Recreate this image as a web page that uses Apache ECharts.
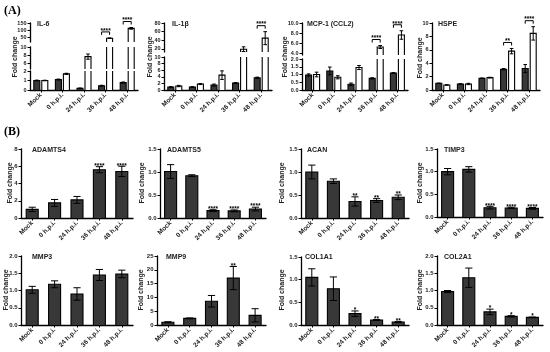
<!DOCTYPE html>
<html><head><meta charset="utf-8">
<script src="https://cdn.jsdelivr.net/npm/echarts@6/dist/echarts.min.js"></script>
<style>html,body{margin:0;padding:0;background:#fff}#c{width:550px;height:352px}</style>
</head><body><div id="c"></div>
<script>
const categories = ['Mock', '0 h.p.i.', '24 h.p.i.', '36 h.p.i.', '48 h.p.i.'];

// ---- (A) paired bars: filled (dark) and open (white) ----
const il6Dark = [1.0, 1.1, 0.18, 0.45, 0.78];
const il6DarkErr = [0.04, 0.05, 0.03, 0.05, 0.06];
const il6Open = [1.0, 1.7, 7.6, 42, 112];
const il6OpenErr = [0.03, 0.06, 0.65, 2, 6];
const il6Sig = ['', '', '', '****', '****'];
const il6TicksLow = [0, 1, 2];
const il6TicksMid = [6, 8, 10];
const il6TicksHigh = [50, 100, 150];

const il1bDark = [0.9, 0.9, 1.5, 2.1, 3.7];
const il1bDarkErr = [0.1, 0.1, 0.3, 0.15, 0.2];
const il1bOpen = [1.2, 1.8, 4.5, 19.5, 45];
const il1bOpenErr = [0.2, 0.15, 1.3, 5.5, 15];
const il1bSig = ['', '', '', '', '****'];
const il1bTicksLow = [0, 2, 4, 6, 8, 10];
const il1bTicksHigh = [20, 40, 60, 80];

const mcp1Dark = [0.97, 1.23, 0.37, 0.75, 1.1];
const mcp1DarkErr = [0.07, 0.25, 0.08, 0.04, 0.02];
const mcp1Open = [1.0, 0.82, 1.45, 5.2, 7.6];
const mcp1OpenErr = [0.15, 0.1, 0.13, 0.3, 0.85];
const mcp1Sig = ['', '', '', '****', '****'];
const mcp1TicksLow = [0, 0.5, 1, 1.5, 2];
const mcp1TicksHigh = [4, 6, 8, 10];

const hspeDark = [1.0, 0.9, 1.75, 3.1, 3.2];
const hspeDarkErr = [0.03, 0.03, 0.04, 0.1, 0.6];
const hspeOpen = [0.75, 0.9, 1.85, 5.8, 8.45];
const hspeOpenErr = [0.03, 0.1, 0.05, 0.4, 1.0];
const hspeSig = ['', '', '', '**', '****'];
const hspeTicks = [0, 2, 4, 6, 8, 10];

// ---- (B) single bars ----
const adamts4 = [1.0, 1.75, 2.1, 5.6, 5.4];
const adamts4Err = [0.25, 0.4, 0.4, 0.35, 0.6];
const adamts4Sig = ['', '', '', '****', '****'];
const adamts4Ticks = [0, 2, 4, 6, 8];

const adamts5 = [1.01, 0.92, 0.16, 0.155, 0.195];
const adamts5Err = [0.15, 0.02, 0.02, 0.02, 0.04];
const adamts5Sig = ['', '', '****', '****', '****'];

const acan = [1.0, 0.8, 0.36, 0.38, 0.45];
const acanErr = [0.15, 0.05, 0.1, 0.04, 0.05];
const acanSig = ['', '', '**', '**', '**'];

const timp3 = [1.0, 1.05, 0.205, 0.2, 0.19];
const timp3Err = [0.07, 0.06, 0.03, 0.015, 0.02];
const timp3Sig = ['', '', '****', '****', '****'];

const ticks15 = [0, 0.5, 1, 1.5];
const ticks20 = [0, 0.5, 1, 1.5, 2];

const mmp3 = [1.02, 1.18, 0.9, 1.45, 1.48];
const mmp3Err = [0.1, 0.1, 0.18, 0.16, 0.11];
const mmp3Sig = ['', '', '', '', ''];

const mmp9 = [1.0, 2.4, 8.6, 17, 3.5];
const mmp9Err = [0.2, 0.15, 2.1, 4.2, 2.4];
const mmp9Sig = ['', '', '', '**', ''];
const mmp9Ticks = [0, 5, 10, 15, 20, 25];

const col1a1 = [1.05, 0.8, 0.25, 0.11, 0.065];
const col1a1Err = [0.19, 0.26, 0.06, 0.01, 0.01];
const col1a1Sig = ['', '', '*', '**', '**'];

const col2a1 = [0.97, 1.37, 0.38, 0.25, 0.22];
const col2a1Err = [0.03, 0.28, 0.08, 0.02, 0.01];
const col2a1Sig = ['', '', '*', '*', '*'];

// ---- drawing ----
const FONT = "'Liberation Sans', Arial, sans-serif";
const DARK = '#383838';
const option = { animation: false, backgroundColor: '#fff', grid: [], xAxis: [], yAxis: [], series: [], graphic: [] };

function ln(x1, y1, x2, y2, w) {
  return { type: 'line', shape: { x1, y1, x2, y2 }, style: { stroke: '#000', lineWidth: w, fill: null } };
}

function drawBar(ch, api, i, cx, bw, v, e, fill, top, bottom) {
  const y0 = api.coord([i, 0])[1];
  const yv = api.coord([i, v])[1];
  const x0 = cx - bw / 2, x1 = cx + bw / 2;
  const yt = Math.max(yv, top), yb = Math.min(y0, bottom);
  if (yt < yb) {
    ch.push({ type: 'rect', shape: { x: x0, y: yt, width: bw, height: yb - yt }, style: { fill: fill } });
    if (yv >= top) {
      ch.push({ type: 'polyline', shape: { points: [[x0, yb], [x0, yv], [x1, yv], [x1, yb]] }, style: { stroke: '#000', lineWidth: 1.1, fill: null } });
    } else {
      ch.push(ln(x0, yb, x0, yt, 1.1));
      ch.push(ln(x1, yb, x1, yt, 1.1));
    }
  }
  if (e > 0 && yv >= top - 0.5 && yv <= bottom + 0.5) {
    const ya = api.coord([i, v + e])[1];
    const yz = Math.min(api.coord([i, Math.max(v - e, 0)])[1], bottom);
    const cw = bw * 0.6;
    ch.push(ln(cx, ya, cx, yz, 1));
    ch.push(ln(cx - cw / 2, ya, cx + cw / 2, ya, 1));
    if (v - e > 0) ch.push(ln(cx - cw / 2, yz, cx + cw / 2, yz, 1));
  }
}

function makeRender(p, bw) {
  const paired = !!p.open;
  return function (params, api) {
    const i = api.value(0);
    const cs = params.coordSys;
    const top = cs.y, bottom = cs.y + cs.height;
    const center = api.coord([i, 0])[0];
    const ch = [];
    const bars = paired
      ? [{ v: p.dark[i], e: p.darkErr[i], off: -4, fill: DARK }, { v: p.open[i], e: p.openErr[i], off: 4, fill: '#fff' }]
      : [{ v: p.dark[i], e: p.darkErr[i], off: 0, fill: DARK }];
    bars.forEach(b => drawBar(ch, api, i, center + b.off, bw, b.v, b.e, b.fill, top, bottom));
    const s = p.sig[i];
    if (s) {
      const b = bars[bars.length - 1];
      const yv = api.coord([i, b.v])[1];
      if (yv >= top - 0.5 && yv <= bottom + 0.5) {
        const ye = api.coord([i, b.v + b.e])[1];
        if (paired) {
          const yb = ye - 6;
          ch.push({ type: 'polyline', shape: { points: [[center - 4, yb + 3], [center - 4, yb], [center + 4, yb], [center + 4, yb + 3]] }, style: { stroke: '#000', lineWidth: 1, fill: null } });
          ch.push({ type: 'text', style: { text: s, x: center, y: yb + 2.5, align: 'center', verticalAlign: 'bottom', fontSize: 6.5, fontWeight: 'bold', fontFamily: FONT, fill: '#000' } });
        } else {
          ch.push({ type: 'text', style: { text: s, x: center, y: ye + 3, align: 'center', verticalAlign: 'bottom', fontSize: 6.5, fontWeight: 'bold', fontFamily: FONT, fill: '#000' } });
        }
      }
    }
    return { type: 'group', children: ch };
  };
}

function addPanel(p) {
  const paired = !!p.open;
  const bw = paired ? 6 : 12;
  const ysz = paired ? 5.5 : 6;
  p.segs.forEach((seg, si) => {
    const gi = option.grid.length;
    const lowest = si === 0;
    option.grid.push({ left: p.left, top: seg.top, width: p.right - p.left, height: seg.bottom - seg.top, containLabel: false, outerBoundsMode: 'none' });
    option.xAxis.push({
      type: 'category', gridIndex: gi, data: categories, boundaryGap: true,
      axisLine: { show: lowest, lineStyle: { color: '#000', width: 1.3 } },
      axisTick: { show: lowest, alignWithLabel: true, length: 2.5, lineStyle: { color: '#000', width: 1 } },
      axisLabel: { show: lowest, interval: 0, rotate: 45, margin: 4, fontSize: 6.5, fontWeight: 'bold', color: '#222', fontFamily: FONT },
      splitLine: { show: false }
    });
    option.yAxis.push({
      type: 'value', gridIndex: gi, min: seg.min, max: seg.max,
      axisLine: { show: true, lineStyle: { color: '#000', width: 1.3 } },
      axisTick: { show: true, length: 2.5, customValues: seg.ticks, lineStyle: { color: '#000', width: 1 } },
      axisLabel: { customValues: seg.ticks, margin: 3.5, fontSize: ysz, fontWeight: 'bold', color: '#222', fontFamily: FONT, formatter: v => Number(v).toFixed(seg.dec) },
      splitLine: { show: false }
    });
    option.series.push({
      type: 'custom', xAxisIndex: gi, yAxisIndex: gi, clip: false, z: 3,
      data: categories.map((c, i) => [i, p.dark[i]]),
      renderItem: makeRender(p, bw)
    });
  });
  option.graphic.push({ type: 'text', x: p.titleX, y: p.titleY, style: { text: p.title, fontSize: 7, fontWeight: 'bold', fontFamily: FONT, fill: '#222', verticalAlign: 'middle' } });
  option.graphic.push({ type: 'text', x: p.nameX, y: p.nameY, rotation: Math.PI / 2, style: { text: 'Fold change', fontSize: 7, fontWeight: 'bold', fontFamily: FONT, fill: '#222', align: 'center', verticalAlign: 'middle' } });
}

const panels = [
  { title: 'IL-6', left: 30, right: 138, titleX: 37, titleY: 24, nameX: 15, nameY: 57,
    dark: il6Dark, darkErr: il6DarkErr, open: il6Open, openErr: il6OpenErr, sig: il6Sig,
    segs: [{ min: 0, max: 2, top: 71, bottom: 90, ticks: il6TicksLow, dec: 0 },
           { min: 4.5, max: 10, top: 47, bottom: 69, ticks: il6TicksMid, dec: 0 },
           { min: 15, max: 150, top: 23, bottom: 42, ticks: il6TicksHigh, dec: 0 }] },
  { title: 'IL-1β', left: 164, right: 272, titleX: 172, titleY: 24, nameX: 150, nameY: 57,
    dark: il1bDark, darkErr: il1bDarkErr, open: il1bOpen, openErr: il1bOpenErr, sig: il1bSig,
    segs: [{ min: 0, max: 10, top: 57, bottom: 90, ticks: il1bTicksLow, dec: 0 },
           { min: 13, max: 80, top: 23, bottom: 52, ticks: il1bTicksHigh, dec: 0 }] },
  { title: 'MCP-1 (CCL2)', left: 302, right: 408, titleX: 307, titleY: 24, nameX: 285, nameY: 57,
    dark: mcp1Dark, darkErr: mcp1DarkErr, open: mcp1Open, openErr: mcp1OpenErr, sig: mcp1Sig,
    segs: [{ min: 0, max: 2, top: 59, bottom: 90, ticks: mcp1TicksLow, dec: 1 },
           { min: 3.6, max: 10, top: 23, bottom: 55, ticks: mcp1TicksHigh, dec: 1 }] },
  { title: 'HSPE', left: 432, right: 540, titleX: 438, titleY: 24, nameX: 420, nameY: 58,
    dark: hspeDark, darkErr: hspeDarkErr, open: hspeOpen, openErr: hspeOpenErr, sig: hspeSig,
    segs: [{ min: 0, max: 10, top: 23, bottom: 90, ticks: hspeTicks, dec: 0 }] },

  { title: 'ADAMTS4', left: 21, right: 133, titleX: 32, titleY: 150, nameX: 10, nameY: 183,
    dark: adamts4, darkErr: adamts4Err, sig: adamts4Sig,
    segs: [{ min: 0, max: 8, top: 149, bottom: 218, ticks: adamts4Ticks, dec: 0 }] },
  { title: 'ADAMTS5', left: 160, right: 266, titleX: 167, titleY: 150, nameX: 142, nameY: 183,
    dark: adamts5, darkErr: adamts5Err, sig: adamts5Sig,
    segs: [{ min: 0, max: 1.5, top: 149, bottom: 218, ticks: ticks15, dec: 1 }] },
  { title: 'ACAN', left: 301, right: 409, titleX: 307, titleY: 150, nameX: 282, nameY: 183,
    dark: acan, darkErr: acanErr, sig: acanSig,
    segs: [{ min: 0, max: 1.5, top: 149, bottom: 218, ticks: ticks15, dec: 1 }] },
  { title: 'TIMP3', left: 437, right: 543, titleX: 444, titleY: 150, nameX: 420, nameY: 183,
    dark: timp3, darkErr: timp3Err, sig: timp3Sig,
    segs: [{ min: 0, max: 1.5, top: 149, bottom: 217, ticks: ticks15, dec: 1 }] },

  { title: 'MMP3', left: 21, right: 133, titleX: 32, titleY: 257, nameX: 6, nameY: 290,
    dark: mmp3, darkErr: mmp3Err, sig: mmp3Sig,
    segs: [{ min: 0, max: 2, top: 256, bottom: 325, ticks: ticks20, dec: 1 }] },
  { title: 'MMP9', left: 157, right: 266, titleX: 166, titleY: 257, nameX: 141, nameY: 290,
    dark: mmp9, darkErr: mmp9Err, sig: mmp9Sig,
    segs: [{ min: 0, max: 25, top: 256, bottom: 325, ticks: mmp9Ticks, dec: 0 }] },
  { title: 'COL1A1', left: 301, right: 409, titleX: 305, titleY: 257, nameX: 282, nameY: 290,
    dark: col1a1, darkErr: col1a1Err, sig: col1a1Sig,
    segs: [{ min: 0, max: 1.5, top: 257, bottom: 325, ticks: ticks15, dec: 1 }] },
  { title: 'COL2A1', left: 437, right: 543, titleX: 444, titleY: 257, nameX: 420, nameY: 290,
    dark: col2a1, darkErr: col2a1Err, sig: col2a1Sig,
    segs: [{ min: 0, max: 2, top: 256, bottom: 325, ticks: ticks20, dec: 1 }] }
];

panels.forEach(addPanel);

option.graphic.push({ type: 'text', x: 4, y: 5, style: { text: '(A)', fontSize: 12, fontWeight: 'bold', fontFamily: "'Liberation Serif', 'Times New Roman', serif", fill: '#000' } });
option.graphic.push({ type: 'text', x: 4, y: 126, style: { text: '(B)', fontSize: 12, fontWeight: 'bold', fontFamily: "'Liberation Serif', 'Times New Roman', serif", fill: '#000' } });

const chart = echarts.init(document.getElementById('c'), null, { renderer: 'canvas' });
chart.setOption(option);
</script></body></html>
